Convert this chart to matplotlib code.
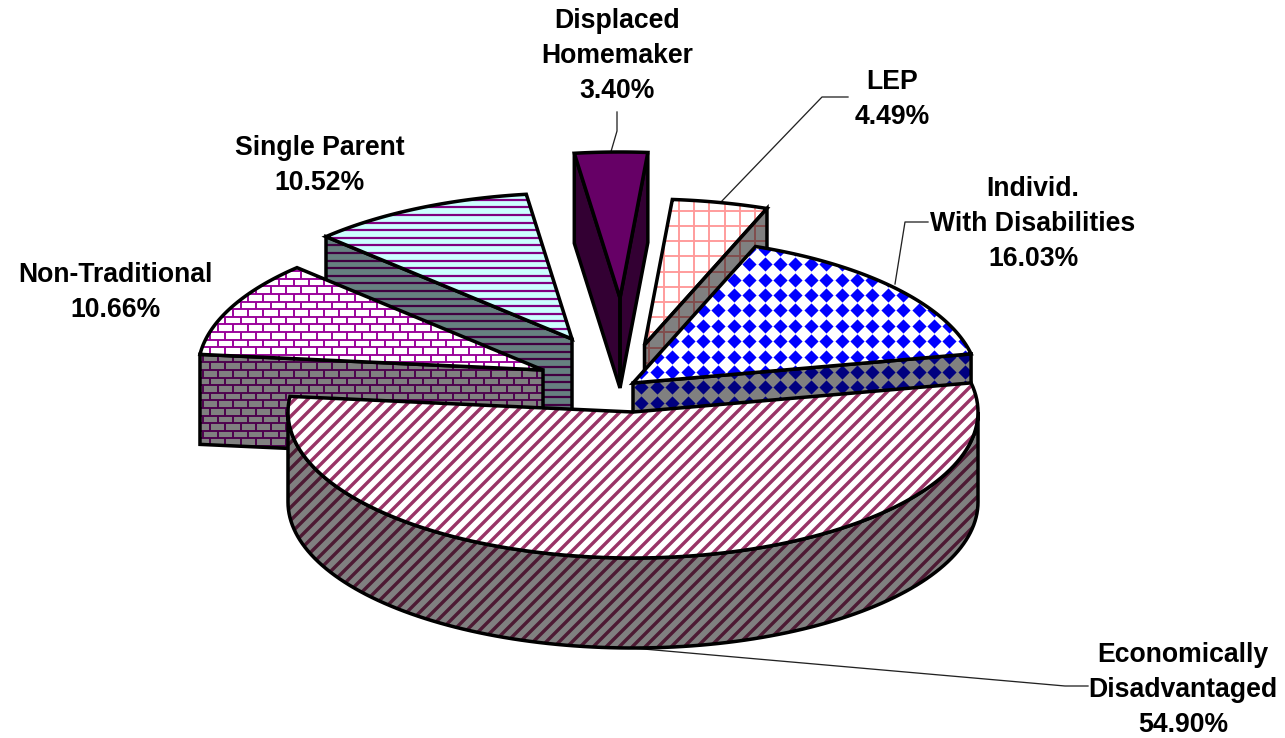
import numpy as np
import matplotlib
matplotlib.use('Agg')
import matplotlib.pyplot as plt
from matplotlib.collections import LineCollection
from matplotlib.patches import Polygon

plt.rcParams['font.family'] = ['Liberation Sans', 'DejaVu Sans']

# data
categories = ['Economically\nDisadvantaged', 'Non-Traditional', 'Single Parent',
              'Displaced\nHomemaker', 'LEP', 'Individ.\nWith Disabilities']
shares = [54.90, 10.66, 10.52, 3.40, 4.49, 16.03]

# layout, everything in reference pixels
start_angle = 11.5
rx = 345
ry = 146
depth = 90
TILE = 15.2
apex = {'Economically\nDisadvantaged': (633, 412), 'Non-Traditional': (543, 370),
        'Single Parent': (572, 339), 'Displaced\nHomemaker': (620, 298),
        'LEP': (644.5, 345), 'Individ.\nWith Disabilities': (633, 383)}
label_pos = [(1183, 690), (115, 292.5), (320, 165.5), (617, 56), (892, 99.5), (1033, 224)]
leaders = [[(632, 648), (1065, 686), (1088, 686)],
           [],
           [],
           [(610, 155), (617, 131), (617, 112)],
           [(720, 203), (822, 97), (848, 97)],
           [(895, 284), (905, 222), (928, 222)]]

fig = plt.figure(figsize=(12.85, 7.38), dpi=100)
ax = fig.add_axes([0, 0, 1, 1])
ax.set_xlim(0, 1285)
ax.set_ylim(738, 0)
ax.axis('off')

# slice angles come from the shares, going clockwise
sweep = np.array(shares) / sum(shares) * 360
theta_start = start_angle - np.concatenate(([0], np.cumsum(sweep)[:-1]))
theta_end = theta_start - sweep


def arc(c, a1, a2, n=120):
    t = np.radians(np.linspace(a1, a2, n))
    return np.column_stack((c[0] + rx * np.cos(t), c[1] - ry * np.sin(t)))


def px(w):
    return w * 0.72


def lines(segs, color, w, clip, z):
    lc = LineCollection(segs, colors=color, linewidths=px(w), zorder=z, capstyle='butt')
    ax.add_collection(lc)
    lc.set_clip_path(clip)


def stripes_h(clip, color, z):
    ys = np.arange(2.3, 738, TILE / 2)
    lines([[(0, y), (1285, y)] for y in ys], color, 2.2, clip, z)


def stripes_d(clip, color, z):
    cs = np.arange(5, 2100, 13.0)
    lines([[(c, 0), (c - 1000, 1000)] for c in cs], color, 3.4, clip, z)


def bricks(clip, color, z):
    segs = []
    ys = np.arange(5.1, 738, TILE / 2)
    for i, y in enumerate(ys):
        segs.append([(0, y), (1285, y)])
        for x in np.arange(4.9 + (i % 2) * TILE / 2, 1285, TILE):
            segs.append([(x, y), (x, y + TILE / 2)])
    lines(segs, color, 1.9, clip, z)


def grid(clip, color, z):
    segs = [[(x, 0), (x, 738)] for x in np.arange(10.2, 1285, TILE)]
    segs += [[(0, y), (1285, y)] for y in np.arange(13.2, 738, TILE)]
    lines(segs, color, 1.9, clip, z)


def diamonds(clip, color, z):
    gx, gy = np.meshgrid(np.arange(10, 1285, 15.4), np.arange(2.4, 738, 15.4))
    sc = ax.scatter(gx.ravel(), gy.ravel(), marker='D', s=52, c=color, linewidths=0, zorder=z)
    sc.set_clip_path(clip)


def face(pts, fill, pattern=None, color=None, z=1):
    p = Polygon(pts, closed=True, fc=fill, ec='none', zorder=z)
    ax.add_patch(p)
    if pattern is not None:
        pattern(p, color, z + 0.1)
    ax.add_patch(Polygon(pts, closed=True, fc='none', ec='black', lw=px(3.5),
                         joinstyle='miter', zorder=z + 0.2))


def wall(p1, p2, fill, pattern=None, color=None, z=1):
    pts = [p1, p2, (p2[0], p2[1] + depth), (p1[0], p1[1] + depth)]
    face(pts, fill, pattern, color, z)


def top(i):
    c = apex[categories[i]]
    return np.vstack(([c], arc(c, theta_start[i], theta_end[i])))


def corner(i, a):
    return tuple(arc(apex[categories[i]], a, a, 1)[0])


# single parent
c = apex[categories[2]]
wall(corner(2, theta_start[2]), c, '#668080', stripes_h, '#400040', z=1)
face(top(2), '#CCFFFF', stripes_h, '#800080', z=2)

# non-traditional
c = apex[categories[1]]
wall(corner(1, theta_start[1]), c, '#808080', bricks, '#4D004D', z=3)
face(top(1), 'white', bricks, '#990099', z=4)

# displaced homemaker
c = apex[categories[3]]
wall(corner(3, theta_start[3]), c, '#330033', z=5)
wall(corner(3, theta_end[3]), c, '#330033', z=5)
face(top(3), '#660066', z=6)

# LEP
c = apex[categories[4]]
face(top(4), 'white', grid, '#FF9999', z=7)
wall(corner(4, theta_end[4]), c, '#808080', grid, '#804C4C', z=8)

# individuals with disabilities
c = apex[categories[5]]
wall(corner(5, theta_end[5]), c, '#808080', diamonds, '#000080', z=9)
face(top(5), 'white', diamonds, '#0000FF', z=10)

# economically disadvantaged, rim then top
c = apex[categories[0]]
rim_top = arc(c, 0, -180)
rim_bot = rim_top[::-1] + [0, depth]
face(np.vstack((rim_top, rim_bot)), '#808080', stripes_d, '#4D1A33', z=11)
face(top(0), 'white', stripes_d, '#993366', z=12)

for name, pos, lead in zip(categories, label_pos, leaders):
    i = categories.index(name)
    if lead:
        xs, ys = zip(*lead)
        ax.plot(xs, ys, color='#222222', lw=px(1.3), zorder=0.5)
    ax.text(pos[0], pos[1], '%s\n%.2f%%' % (name, shares[i]), ha='center', va='center',
            fontsize=19.2, fontweight='bold', linespacing=1.44, zorder=20)

fig.savefig('out.png', dpi=100)
